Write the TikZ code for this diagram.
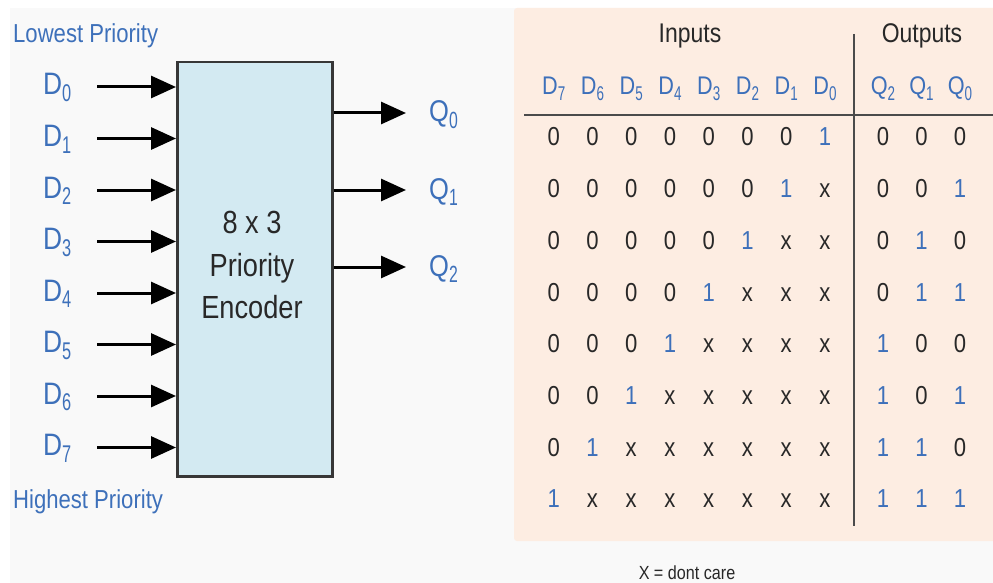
\documentclass[tikz,border=0pt]{standalone}
\usepackage{fontspec}
\setmainfont[FakeStretch=0.85]{Liberation Sans}
\usepackage{graphicx}
\usetikzlibrary{arrows.meta}
\definecolor{bluetxt}{RGB}{61,112,186}
\definecolor{darktxt}{RGB}{40,40,40}
\definecolor{boxfill}{RGB}{211,234,242}
\definecolor{boxedge}{RGB}{55,55,55}
\definecolor{bggray}{RGB}{249,249,249}
\definecolor{peach}{RGB}{253,237,226}
\newcommand\subs[1]{\raisebox{-0.22em}{\scalebox{0.62}[0.78]{#1}}}
\newcommand\fs[1]{\fontsize{#1}{#1}\selectfont}
\begin{document}
\begin{tikzpicture}[x=1pt,y=-1pt,
  lbl/.style={inner sep=0pt, text=bluetxt, font=\fs{31}},
  prio/.style={inner sep=0pt, text=bluetxt, font=\fs{26}, anchor=base west},
  boxtxt/.style={inner sep=0pt, text=darktxt, font=\fs{32}, anchor=base},
  inarrow/.style={line width=3pt, draw=black, -{Triangle[length=25pt,width=22pt]}},
  hdr/.style={inner sep=0pt, text=darktxt, font=\fs{27}, anchor=base},
  colhdr/.style={inner sep=0pt, text=bluetxt, font=\fs{25.5}, anchor=base},
  cell/.style={inner sep=0pt, text=darktxt, font=\fs{26}, anchor=base},
  rule/.style={line width=2.5pt, draw=boxedge!90}]
\useasboundingbox (0,0) rectangle (993,583);
\fill[white] (0,0) rectangle (993,583);
\fill[bggray] (10,8) rectangle (993,583);
\fill[peach, rounded corners=3pt] (514,8) rectangle (1000,541);
% left part
\node[prio] (lowp) at (13,43) {Lowest Priority};
\node[prio] (highp) at (13,508) {Highest Priority};
\node[draw=boxedge, line width=2.5pt, fill=boxfill, minimum width=155pt, minimum height=414pt, inner sep=0pt, anchor=north west] (enc) at (176,61) {};
\node[boxtxt] (t1) at (252,233) {8 x 3};
\node[boxtxt] (t2) at (252,276) {Priority};
\node[boxtxt] (t3) at (252,318) {Encoder};
\foreach \i/\yy in {0/87,1/138.5,2/190,3/241.5,4/293,5/344.5,6/396,7/447.5}{
  \node[lbl, anchor=base west] (d\i) at (43,\yy+8) {D\subs{\i}};
  \coordinate (in\i) at (97,\yy);
  \draw[inarrow] (in\i) -- (in\i -| enc.west);
}
\foreach \i/\yy in {0/113,1/190,2/267}{
  \coordinate (out\i) at (406,\yy);
  \draw[inarrow] (out\i -| enc.east) -- (out\i);
  \node[lbl, anchor=base west, font=\fs{30}] (q\i) at (429,\yy+9) {Q\subs{\i}};
}
% table
\node[hdr] (inputs) at (690,43) {Inputs};
\node[hdr] (outputs) at (922,43) {Outputs};
\coordinate (vtop) at (854,34);
\coordinate (vbot) at (854,526);
\coordinate (hl) at (524,115);
\coordinate (hr) at (993,115);
\draw[rule] (vtop) -- (vbot);
\draw[rule] (hl) -- (hr);
\foreach \k in {0,...,7}{
  \node[colhdr] (hd\k) at (825-38.75*\k,95) {D\subs{\k}};
}
\foreach \b in {0,1,2}{
  \node[colhdr] (hq\b) at (960-38.5*\b,95) {Q\subs{\b}};
}
\foreach \r in {0,...,7}{
  \pgfmathsetmacro\yy{137+51.7*\r+9}
  \foreach \k in {0,...,7}{
    \node[cell] (c\r-\k) at (825-38.75*\k,\yy) {\ifnum\k=\r\relax \textcolor{bluetxt}{1}\else\ifnum\k>\r\relax 0\else x\fi\fi};
  }
  \foreach \b in {0,1,2}{
    \pgfmathtruncatemacro\bv{mod(floor(\r/(2^\b)),2)}
    \node[cell] (o\r-\b) at (960-38.5*\b,\yy) {\ifnum\bv=1\relax \textcolor{bluetxt}{1}\else 0\fi};
  }
}
\node[inner sep=0pt, text=darktxt, font=\fs{19}, anchor=base] (note) at (687,579) {X = dont care};
\end{tikzpicture}
\end{document}
